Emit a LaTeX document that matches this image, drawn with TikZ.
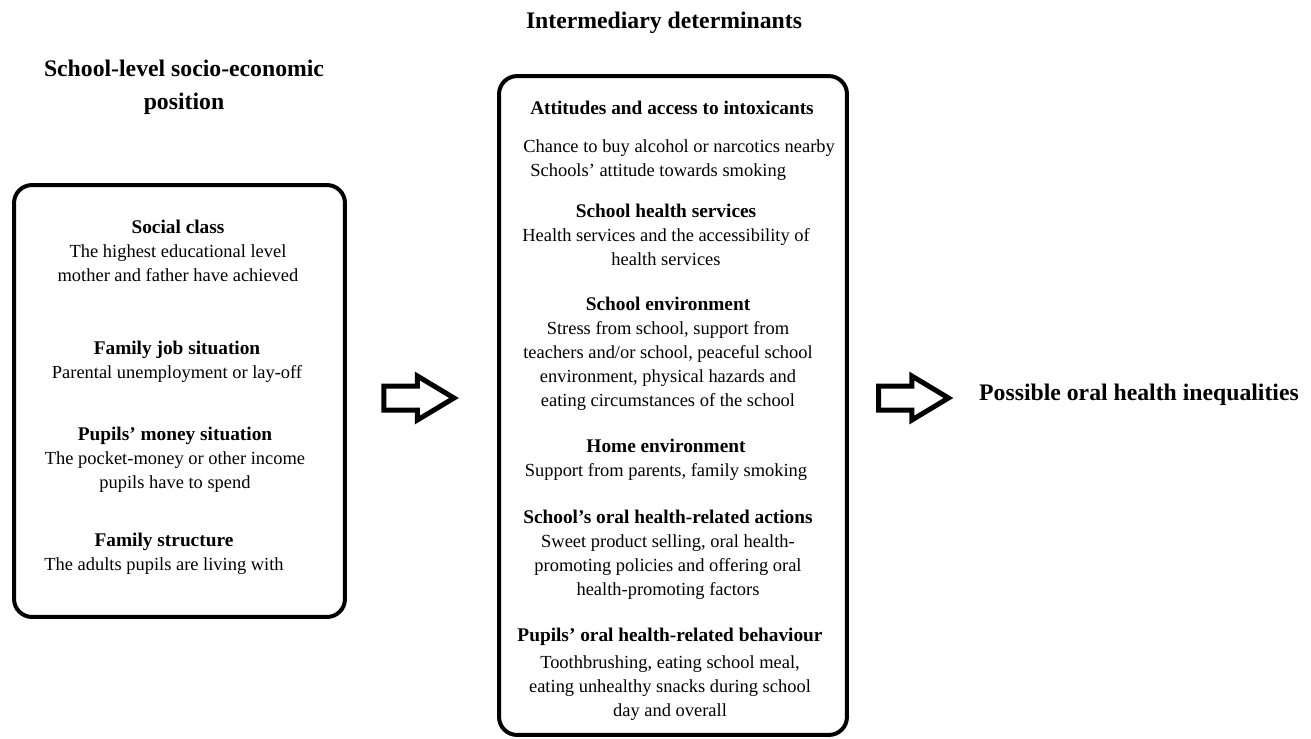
\documentclass[tikz,border=0pt]{standalone}
\usepackage{fontspec}
\setmainfont{Liberation Serif}
\usetikzlibrary{shapes}
\tikzset{
  every picture/.style={font={\fontsize{10.5}{13.6}\selectfont}, >=stealth}}
\newcommand{\entryhead}[1]{{\fontsize{11}{13.6}\selectfont\bfseries #1}}

\begin{document}
\begin{tikzpicture}[x=0.02cm, y=-0.02cm,
    panel/.style={
      draw, line width=0.08cm,
      rounded corners=0.36cm},
    title/.style={
      font={\fontsize{13.5}{18.7}\selectfont\bfseries},
      align=center, inner sep=0pt},
    entry/.style={align=center, inner sep=0pt},
    bigArrow/.style={
      draw, line width=0.1cm,
      single arrow,
      single arrow head extend=0.2cm,
      single arrow tip angle=62,
      single arrow head indent=0cm,
      minimum height=1.4cm,
      inner xsep=0pt, inner ysep=0.19cm}]

    \useasboundingbox (0, 0) rectangle (1311, 738);

    % structural determinants
    \node[title] (socioTitle) at (184, 87)
      {School-level socio-economic\\position};
    \node[panel, minimum width=6.62cm, minimum height=8.64cm]
      (socio) at (179.5, 401) {};

    \node[entry] (socialClass) at (178, 251)
      {\entryhead{Social class}\\
       The highest educational level\\
       mother and father have achieved};
    \node[entry] (familyJob) at (177, 362)
      {\entryhead{Family job situation}\\
       Parental unemployment or lay-off};
    \node[entry] (pupilMoney) at (175, 460)
      {\entryhead{Pupils’ money situation}\\
       The pocket-money or other income\\
       pupils have to spend};
    \node[entry] (familyStruct) at (164, 554)
      {\entryhead{Family structure}\\
       The adults pupils are living with};

    \node[bigArrow] (arrowA) at (409, 398) {};

    % intermediary determinants
    \node[title] (interTitle) at (664, 23) {Intermediary determinants};
    \node[panel, minimum width=6.96cm, minimum height=13.18cm]
      (inter) at (673, 405.5) {};

    \node[entry] (intoxHead) at (672, 108)
      {\entryhead{Attitudes and access to intoxicants}};
    \node[entry, align=left, anchor=west] (intoxBody) at (523, 160)
      {Chance to buy alcohol or narcotics nearby\\
       \hspace*{0.14cm}Schools’ attitude towards smoking};
    \node[entry] (healthServ) at (666, 235)
      {\entryhead{School health services}\\
       Health services and the accessibility of\\
       health services};
    \node[entry] (schoolEnv) at (668, 354)
      {\entryhead{School environment}\\
       Stress from school, support from\\
       teachers and/or school, peaceful school\\
       environment, physical hazards and\\
       eating circumstances of the school};
    \node[entry] (homeEnv) at (666, 460)
      {\entryhead{Home environment}\\
       Support from parents, family smoking};
    \node[entry] (schoolAct) at (668, 555)
      {\entryhead{School’s oral health-related actions}\\
       Sweet product selling, oral health-\\
       promoting policies and offering oral\\
       health-promoting factors};
    \node[entry] (pupilBehav) at (670, 674)
      {\entryhead{Pupils’ oral health-related behaviour}\\[1.7pt]
       Toothbrushing, eating school meal,\\
       eating unhealthy snacks during school\\
       day and overall};

    \node[bigArrow] (arrowB) at (903.5, 398) {};

    % outcome
    \node[title] (outcome) at (1139, 395)
      {Possible oral health inequalities};
  \end{tikzpicture}
\end{document}
